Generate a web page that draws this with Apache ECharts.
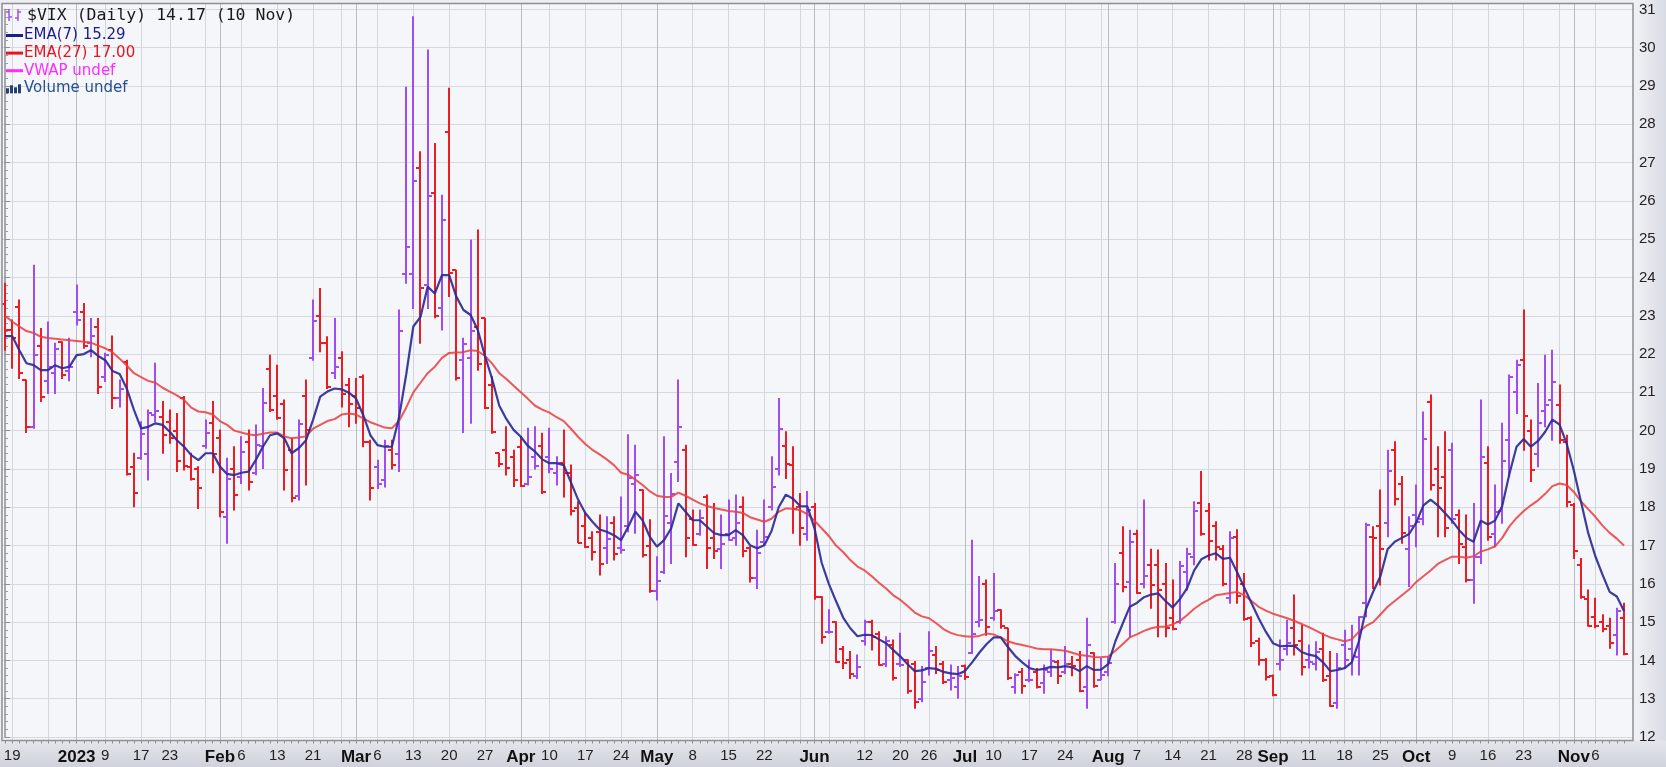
<!DOCTYPE html>
<html><head><meta charset="utf-8">
<script src="https://cdn.jsdelivr.net/npm/echarts@6/dist/echarts.min.js"></script>
<style>html,body{margin:0;padding:0;background:#fff;}#c{width:1666px;height:767px;}</style>
</head><body><div id="c"></div>
<script>
// ---------- data ----------
const firstDate = '2022-12-16';
const lastDate = '2023-11-10';
const holidays = ['2022-12-26','2023-01-02','2023-01-16','2023-02-20','2023-04-07','2023-05-29','2023-06-19','2023-07-04','2023-09-04'];

const opens = [23.31,22.63,23.22,21.32,20.1,22.21,21.3,21.5,22.32,21.55,
23.11,23.11,22.3,22.7,21.4,22.1,20.84,21.8,19.06,19.28,
19.4,20.4,20.36,20.23,20.0,20.84,19.06,19.0,19.6,20.2,
19.8,17.75,19.0,18.8,19.7,18.9,19.6,21.6,20.9,20.7,
19.5,18.3,20.9,21.9,23.0,22.3,21.5,21.9,21.2,20.9,
21.41,19.7,19.06,18.7,19.5,19.4,24.1,24.1,26.85,23.8,
26.2,23.2,27.8,24.19,21.84,21.9,22.7,22.93,21.2,19.41,
19.5,19.3,19.58,18.6,19.3,19.6,19.3,18.9,19.15,18.9,
17.97,17.5,17.2,17.36,16.93,17.58,16.93,17.5,18.6,18.45,
17.0,15.8,16.32,17.6,19.19,19.49,17.7,17.3,18.27,17.2,
16.9,17.3,17.2,18.0,16.93,16.14,17.1,18.0,19.0,19.6,
19.1,18.0,17.3,18.0,15.66,14.75,15.0,14.3,14.0,13.6,
14.5,15.0,14.7,13.9,14.4,13.9,14.0,13.9,13.0,13.8,
14.14,13.9,13.5,13.3,13.85,14.2,15.0,16.0,15.1,15.32,
14.84,13.3,13.7,13.5,13.7,13.4,13.7,13.95,13.7,13.9,
14.0,13.3,14.2,13.5,13.7,15.0,16.8,16.05,17.3,16.0,
16.5,16.5,16.0,15.1,15.0,16.3,16.7,18.1,17.9,17.5,
16.9,15.62,17.23,16.0,15.1,14.5,14.0,13.6,13.9,14.3,
14.84,14.5,14.0,13.9,14.3,13.6,12.9,14.4,14.3,14.1,
15.5,17.23,17.5,17.6,19.5,18.6,16.9,17.8,17.7,20.76,
19.0,18.8,19.5,17.8,16.97,16.1,16.7,19.15,17.3,17.9,
19.75,21.0,21.84,20.0,19.4,20.5,20.8,20.67,19.7,18.06,
16.5,15.6,15.14,15.0,14.9,14.66,15.1];

const highs = [23.85,22.89,23.41,21.32,24.32,22.67,22.84,22.28,22.32,22.41,
23.8,23.32,22.93,22.93,22.02,22.47,21.32,21.84,19.41,20.23,
20.54,21.76,20.76,20.54,20.45,20.89,19.41,19.06,20.28,20.76,
20.02,19.28,19.58,19.84,20.02,20.15,21.1,21.97,21.71,20.8,
19.8,20.28,21.32,23.41,23.71,22.45,22.93,22.06,21.36,21.36,
21.45,19.75,19.23,19.75,19.75,23.15,28.97,30.81,27.28,29.94,
27.5,26.15,28.94,24.19,22.41,24.98,25.24,22.93,21.41,19.41,
20.1,19.49,19.84,20.06,20.1,19.93,20.06,19.32,20.02,19.1,
18.14,17.84,17.36,17.8,17.75,17.75,18.27,19.89,19.62,18.45,
17.67,16.71,19.84,18.88,21.32,19.62,17.93,17.93,18.32,18.1,
17.8,18.19,18.32,18.27,16.97,17.4,18.19,19.32,20.84,19.97,
19.58,18.36,18.41,18.1,15.66,15.32,15.01,14.36,14.23,14.14,
15.05,15.05,14.75,14.62,14.53,14.71,14.01,13.97,13.84,14.75,
14.36,13.97,13.88,13.84,13.88,17.14,16.19,16.1,16.27,15.32,
14.84,13.65,13.79,14.01,13.79,13.88,14.27,14.0,14.36,14.1,
14.23,15.1,14.2,14.05,14.1,16.53,17.49,17.4,17.4,18.19,
16.9,16.88,16.53,16.1,16.58,16.93,18.14,18.93,18.1,17.62,
17.0,17.36,17.41,16.27,15.14,14.58,14.05,13.62,14.53,15.05,
15.71,14.92,14.4,14.49,14.71,14.23,14.18,14.79,14.92,15.14,
17.58,17.49,18.45,19.49,19.71,18.8,17.75,18.58,20.49,20.93,
19.58,19.97,19.67,17.93,17.8,18.1,20.8,19.58,18.58,20.19,
21.45,21.84,23.15,20.28,21.23,21.97,22.1,21.19,19.88,18.1,
16.66,15.84,15.62,15.19,15.1,15.36,15.49];

const lows = [22.1,21.63,21.36,19.95,20.06,20.76,20.97,20.97,21.36,21.3,
22.76,22.15,21.93,20.97,21.28,20.58,20.62,18.84,18.01,19.25,
18.71,20.23,19.41,19.67,18.93,18.97,18.71,17.97,19.54,18.9,
17.75,17.06,17.93,18.62,18.45,18.85,19.01,20.5,20.3,18.45,
18.14,18.19,18.58,21.84,22.06,21.1,21.36,20.62,20.1,20.19,
19.58,18.19,18.49,18.53,19.0,18.93,23.85,23.19,22.28,23.19,
22.95,22.63,23.5,21.32,19.95,20.19,21.58,20.58,19.93,19.06,
18.84,18.54,18.54,18.58,19.0,18.36,18.9,18.58,18.27,17.8,
17.07,16.95,16.62,16.23,16.53,16.62,16.8,17.36,17.32,16.7,
15.78,15.58,16.27,16.53,18.67,16.71,17.01,17.27,16.4,16.66,
16.4,17.14,17.01,16.71,16.05,15.88,17.01,17.93,18.84,18.75,
17.32,17.01,17.14,15.6,14.45,14.71,13.95,13.79,13.53,13.53,
14.4,14.27,13.88,13.84,13.49,13.84,13.14,12.75,12.92,13.62,
13.66,13.4,13.23,13.01,13.5,14.18,14.88,14.66,15.05,14.84,
13.5,13.14,13.14,13.44,13.28,13.14,13.58,13.4,13.65,13.6,
13.18,12.75,13.3,13.5,13.6,14.97,15.79,14.62,15.75,15.9,
15.36,14.62,14.62,14.8,14.97,15.84,16.5,17.27,16.62,16.62,
15.95,15.49,15.49,15.05,14.36,13.88,13.49,13.08,13.75,14.14,
14.14,13.62,13.8,13.75,13.45,12.8,12.75,13.79,13.62,13.62,
15.14,15.88,15.97,17.23,18.06,17.06,15.93,16.97,17.54,18.45,
17.23,17.23,17.58,16.53,16.05,15.49,16.53,17.14,16.97,17.58,
18.8,20.45,19.49,18.67,19.06,20.1,19.75,19.67,18.01,16.66,
15.62,14.9,14.85,14.75,14.32,14.14,14.15];

const closes = [22.62,22.42,21.5,20.1,21.97,20.87,21.65,22.14,21.44,21.67,
22.9,22.2,22.46,21.13,21.97,20.86,21.09,18.88,18.36,19.9,
20.45,20.52,19.89,19.81,19.2,19.08,18.73,18.51,19.94,19.4,
17.87,18.73,18.33,19.43,18.66,19.63,20.71,20.53,20.34,18.97,
18.23,20.17,20.02,22.87,22.29,21.14,21.67,20.95,20.7,20.58,
19.7,18.49,18.6,19.59,19.11,22.61,24.8,26.52,23.73,26.14,
22.99,25.51,24.12,21.38,22.26,22.61,21.74,20.6,19.97,19.12,
19.02,18.7,18.55,18.8,19.08,18.4,19.0,19.15,18.9,17.9,
17.07,16.97,16.84,16.53,17.17,16.77,16.89,18.76,18.84,16.75,
15.8,16.08,17.78,18.34,20.09,17.19,17.01,17.71,16.94,16.85,
17.03,17.14,17.6,16.87,16.14,16.81,17.21,18.53,20.03,19.14,
17.95,17.46,17.94,15.65,14.62,14.73,13.96,13.94,13.65,13.83,
15.01,14.61,13.88,14.5,13.54,13.88,13.2,12.91,13.44,14.25,
13.74,13.43,13.54,13.59,13.57,14.69,15.05,14.88,15.3,14.9,
13.54,13.61,13.34,13.48,13.3,13.76,13.99,13.6,13.91,13.86,
13.19,14.41,13.33,13.63,13.93,15.99,15.92,17.1,15.77,16.2,
15.96,15.85,14.84,14.82,16.46,16.78,17.89,17.3,17.13,16.97,
16.0,17.2,15.68,15.08,14.45,14.0,13.57,13.09,14.02,14.45,
14.4,13.84,13.95,14.23,13.48,12.82,13.79,14.0,14.11,15.14,
17.54,17.2,16.9,18.94,18.22,17.34,17.52,17.61,19.78,18.58,
18.49,17.45,17.7,17.03,16.09,16.69,19.32,17.21,17.88,19.22,
21.4,21.71,20.37,18.97,20.19,20.68,21.27,19.75,18.14,16.87,
15.66,14.91,14.89,14.81,14.45,15.29,14.17];

const ema7 = [22.47,22.47,22.1,21.76,21.71,21.58,21.58,21.71,21.63,21.67,
21.97,22.0,22.1,21.95,21.84,21.56,21.48,21.1,20.54,20.06,
20.1,20.19,20.15,19.97,19.75,19.58,19.36,19.23,19.41,19.41,
19.06,18.87,18.84,18.9,18.93,19.23,19.58,19.88,19.93,19.8,
19.41,19.54,19.74,20.28,20.89,21.02,21.1,21.08,20.99,20.84,
20.41,19.88,19.62,19.58,19.58,20.34,21.46,22.72,22.97,23.76,
23.58,24.06,24.06,23.5,23.15,23.02,22.63,21.95,21.35,20.65,
20.3,20.02,19.84,19.6,19.45,19.25,19.15,19.15,19.1,18.65,
18.2,17.85,17.62,17.42,17.36,17.27,17.14,17.49,17.88,17.66,
17.23,16.97,17.14,17.45,18.1,17.88,17.66,17.66,17.49,17.32,
17.27,17.27,17.4,17.27,17.01,16.93,17.01,17.38,18.0,18.33,
18.22,18.03,18.02,17.45,16.55,16.0,15.55,15.12,14.84,14.63,
14.67,14.66,14.55,14.45,14.27,14.1,13.9,13.72,13.74,13.8,
13.78,13.7,13.66,13.64,13.72,13.95,14.2,14.42,14.6,14.6,
14.35,14.12,13.95,13.8,13.75,13.78,13.83,13.82,13.85,13.82,
13.72,13.85,13.75,13.76,13.9,14.5,14.95,15.4,15.5,15.65,
15.72,15.75,15.55,15.38,15.6,15.88,16.35,16.64,16.74,16.8,
16.65,16.68,16.3,15.9,15.5,15.1,14.75,14.45,14.37,14.38,
14.38,14.22,14.15,14.11,13.95,13.72,13.75,13.8,13.95,14.5,
15.35,15.8,16.2,16.9,17.1,17.2,17.3,17.6,18.05,18.2,
18.05,17.85,17.65,17.4,17.2,17.1,17.65,17.55,17.65,18.03,
18.87,19.58,19.78,19.58,19.73,19.97,20.29,20.16,19.66,18.96,
18.14,17.33,16.72,16.24,15.79,15.67,15.29];

const ema27 = [23.0,22.85,22.72,22.6,22.55,22.45,22.42,22.4,22.38,22.36,
22.34,22.32,22.3,22.22,22.15,22.05,21.88,21.7,21.5,21.4,
21.3,21.25,21.12,21.02,20.92,20.8,20.6,20.5,20.48,20.42,
20.25,20.15,20.0,19.95,19.9,19.88,19.92,19.95,19.95,19.85,
19.8,19.82,19.85,20.05,20.15,20.25,20.3,20.42,20.45,20.42,
20.32,20.22,20.15,20.08,20.06,20.25,20.6,21.0,21.25,21.5,
21.67,21.9,22.03,22.04,22.05,22.1,22.08,21.95,21.75,21.5,
21.35,21.17,21.0,20.83,20.65,20.55,20.47,20.35,20.25,20.05,
19.84,19.65,19.5,19.38,19.25,19.1,18.9,18.85,18.72,18.58,
18.42,18.3,18.27,18.27,18.38,18.3,18.2,18.1,18.03,17.98,
17.94,17.9,17.88,17.85,17.74,17.68,17.62,17.7,17.88,17.97,
17.96,17.92,17.82,17.65,17.45,17.25,17.0,16.83,16.62,16.45,
16.35,16.2,16.03,15.88,15.7,15.58,15.42,15.25,15.15,15.1,
14.97,14.82,14.72,14.66,14.63,14.62,14.64,14.7,14.68,14.6,
14.5,14.44,14.4,14.36,14.31,14.29,14.29,14.27,14.25,14.2,
14.14,14.12,14.09,14.08,14.1,14.25,14.42,14.6,14.68,14.77,
14.84,14.88,14.88,14.94,15.03,15.18,15.35,15.48,15.58,15.7,
15.73,15.76,15.79,15.7,15.55,15.4,15.3,15.22,15.16,15.1,
15.03,14.95,14.87,14.78,14.68,14.6,14.55,14.5,14.55,14.75,
14.9,15.0,15.2,15.4,15.55,15.7,15.85,16.05,16.2,16.35,
16.52,16.62,16.71,16.71,16.68,16.72,16.84,16.9,16.98,17.2,
17.5,17.72,17.9,18.05,18.18,18.35,18.55,18.62,18.58,18.4,
18.15,17.95,17.75,17.52,17.33,17.18,17.0];

const tickDates = ['2022-12-19','2023-01-03','2023-01-09','2023-01-17','2023-01-23','2023-02-01','2023-02-06','2023-02-13','2023-02-21','2023-03-01','2023-03-06','2023-03-13','2023-03-20','2023-03-27','2023-04-03','2023-04-10','2023-04-17','2023-04-24','2023-05-01','2023-05-08','2023-05-15','2023-05-22','2023-06-01','2023-06-12','2023-06-20','2023-06-26','2023-07-03','2023-07-10','2023-07-17','2023-07-24','2023-08-01','2023-08-07','2023-08-14','2023-08-21','2023-08-28','2023-09-01','2023-09-11','2023-09-18','2023-09-25','2023-10-02','2023-10-09','2023-10-16','2023-10-23','2023-11-01','2023-11-06'];
const tickTexts = ['19','2023','9','17','23','Feb','6','13','21','Mar','6','13','20','27','Apr','10','17','24','May','8','15','22','Jun','12','20','26','Jul','10','17','24','Aug','7','14','21','28','Sep','11','18','25','Oct','9','16','23','Nov','6'];
const yTickValues = [12,13,14,15,16,17,18,19,20,21,22,23,24,25,26,27,28,29,30,31];

const titleText = '$VIX (Daily) 14.17 (10 Nov)';
const legendRows = [
  {text:'EMA(7) 15.29', color:'#1c1c8a'},
  {text:'EMA(27) 17.00', color:'#e8141c'},
  {text:'VWAP undef', color:'#ff2cff'},
  {text:'Volume undef', color:'#24508e'}
];

// ---------- derived categories ----------
function tradingDays(a, b, hol) {
  const hs = new Set(hol), out = [];
  let t = new Date(a + 'T00:00:00Z').getTime();
  const end = new Date(b + 'T00:00:00Z').getTime();
  while (t <= end) {
    const d = new Date(t), wd = d.getUTCDay(), s = d.toISOString().slice(0, 10);
    if (wd !== 0 && wd !== 6 && !hs.has(s)) out.push(s);
    t += 86400000;
  }
  return out;
}
const dates = tradingDays(firstDate, lastDate, holidays);
const labelMap = new Map(tickDates.map((d, k) => [d, tickTexts[k]]));
const weekIdx = new Set(), monthIdx = new Set();
dates.forEach((d, i) => {
  if (i === 0) return;
  const p = dates[i - 1];
  const wd = new Date(d + 'T00:00:00Z').getUTCDay(), pw = new Date(p + 'T00:00:00Z').getUTCDay();
  if (d.slice(5, 7) !== p.slice(5, 7)) monthIdx.add(i);
  else if (wd < pw) weekIdx.add(i);
});

// ---------- layout ----------
const PL = 2, PR = 1633, PT = 3.5, PB = 740.5;     // plot frame
const X0 = 5, X1 = 1624;                            // first / last bar centre
const step = (X1 - X0) / (dates.length - 1);
const Y31 = 9.4, Y12 = 737;
const UP = '#a04cf0', DOWN = '#ec1c24';

const ohlc = dates.map((d, i) => {
  const up = i === 0 ? closes[i] > opens[i] : closes[i] > closes[i - 1];
  return [i, opens[i], highs[i], lows[i], closes[i], up ? 1 : 0];
});

function renderOHLC(params, api) {
  const i = api.value(0);
  const h = api.coord([i, api.value(2)]);
  const l = api.coord([i, api.value(3)]);
  const o = api.coord([i, api.value(1)]);
  const c = api.coord([i, api.value(4)]);
  const col = api.value(5) ? UP : DOWN;
  const x = Math.round(h[0]);
  const st = {stroke: col, lineWidth: 2};
  return {type: 'group', children: [
    {type: 'line', shape: {x1: x, y1: h[1] - 0.5, x2: x, y2: l[1] + 0.5}, style: st},
    {type: 'line', shape: {x1: x - 4, y1: Math.round(o[1]), x2: x, y2: Math.round(o[1])}, style: st},
    {type: 'line', shape: {x1: x, y1: Math.round(c[1]), x2: x + 4, y2: Math.round(c[1])}, style: st}
  ]};
}

const FONT = '"Liberation Sans", Arial, sans-serif';
const graphics = [
  {type: 'rect', z: -100, silent: true, shape: {x: 0, y: 0, width: 1666, height: 767}, style: {fill: '#eceef2'}},
  {type: 'rect', z: -99, silent: true, shape: {x: PR, y: 0, width: 1666 - PR, height: 767},
    style: {fill: new echarts.graphic.LinearGradient(0, 0, 1, 0, [{offset: 0, color: '#f1f2f6'}, {offset: 1, color: '#d9dce4'}])}},
  {type: 'rect', z: -99, silent: true, shape: {x: 0, y: PB, width: 1666, height: 767 - PB},
    style: {fill: new echarts.graphic.LinearGradient(0, 0, 0, 1, [{offset: 0, color: '#e4e6ec'}, {offset: 1, color: '#cfd2da'}])}},
  {type: 'rect', z: -98, silent: true, shape: {x: PL, y: PT, width: PR - PL, height: PB - PT}, style: {fill: '#f5f6fa'}},
  {type: 'rect', z: 60, silent: true, shape: {x: PL, y: PT, width: PR - PL, height: PB - PT}, style: {fill: 'none', stroke: '#8d8f95', lineWidth: 1.5}},
  // title row icon
  {type: 'line', z: 70, shape: {x1: 9, y1: 9, x2: 9, y2: 21}, style: {stroke: UP, lineWidth: 1.5}},
  {type: 'line', z: 70, shape: {x1: 6, y1: 12, x2: 9, y2: 12}, style: {stroke: UP, lineWidth: 1.5}},
  {type: 'line', z: 70, shape: {x1: 9, y1: 17, x2: 12, y2: 17}, style: {stroke: UP, lineWidth: 1.5}},
  {type: 'line', z: 70, shape: {x1: 18, y1: 9, x2: 18, y2: 21}, style: {stroke: UP, lineWidth: 1.5}},
  {type: 'line', z: 70, shape: {x1: 15, y1: 18, x2: 18, y2: 18}, style: {stroke: UP, lineWidth: 1.5}},
  {type: 'line', z: 70, shape: {x1: 18, y1: 12, x2: 21, y2: 12}, style: {stroke: UP, lineWidth: 1.5}},
  {type: 'text', z: 70, x: 27, y: 16, style: {text: titleText, fill: '#1a1a1a', font: '16.5px "DejaVu Sans Mono", monospace', verticalAlign: 'middle'}}
];
legendRows.forEach((r, k) => {
  const y = 35.5 + k * 17.6;
  if (k < 3) {
    graphics.push({type: 'rect', z: 70, shape: {x: 6, y: y - 1.5, width: 17, height: 3}, style: {fill: r.color}});
  } else {
    [[6, 5], [10, 8], [14, 6], [18, 9]].forEach(([bx, bh]) => graphics.push({type: 'rect', z: 70, shape: {x: bx, y: y + 5 - bh, width: 3, height: bh}, style: {fill: '#24406e'}}));
  }
  graphics.push({type: 'text', z: 70, x: 24, y: y, style: {text: r.text, fill: r.color, font: '15px "DejaVu Sans", sans-serif', verticalAlign: 'middle'}});
});

const option = {
  animation: false,
  graphic: graphics,
  grid: [
    {left: X0, width: X1 - X0, top: PT, height: PB - PT, show: false},
    {left: PL, width: PR - PL, top: Y31, height: Y12 - Y31, show: false}
  ],
  xAxis: [
    {gridIndex: 0, type: 'category', data: dates, boundaryGap: false, position: 'bottom',
      axisLine: {show: false},
      axisTick: {show: true, interval: 0, length: 3, lineStyle: {color: '#8d8f95'}},
      axisLabel: {
        interval: (idx, val) => labelMap.has(val),
        formatter: (val) => {
          const t = labelMap.get(val) || '';
          return /[A-Za-z]|^\d{4}$/.test(t) ? '{b|' + t + '}' : '{n|' + t + '}';
        },
        margin: 8,
        rich: {
          b: {fontFamily: FONT, fontSize: 17, fontWeight: 'bold', color: '#111'},
          n: {fontFamily: FONT, fontSize: 15, color: '#222'}
        }
      },
      splitLine: {show: true, interval: (idx) => weekIdx.has(idx), lineStyle: {color: '#d3d6dd', width: 1}}
    },
    {gridIndex: 0, type: 'category', data: dates, boundaryGap: false, position: 'top',
      axisLine: {show: false}, axisTick: {show: false}, axisLabel: {show: false},
      splitLine: {show: true, interval: (idx) => monthIdx.has(idx), lineStyle: {color: '#b8bcc5', width: 1}}
    },
    {gridIndex: 1, type: 'value', show: false,
      min: -(X0 - PL) / step, max: (dates.length - 1) + (PR - X1) / step}
  ],
  yAxis: [
    {gridIndex: 0, type: 'value', show: false, min: 0, max: 1},
    {gridIndex: 1, type: 'value', position: 'right', min: yTickValues[0], max: yTickValues[yTickValues.length - 1], interval: 1,
      axisLine: {show: true, lineStyle: {color: '#8d8f95', width: 1.5}},
      axisTick: {show: true, length: 5, lineStyle: {color: '#8d8f95'}},
      minorTick: {show: true, splitNumber: 5, length: 3, lineStyle: {color: '#9a9ca2'}},
      axisLabel: {margin: 6, fontFamily: FONT, fontSize: 15, color: '#222'},
      splitLine: {show: true, lineStyle: {color: '#d6d9e0', width: 1}}
    }
  ],
  series: [
    {type: 'line', xAxisIndex: 0, yAxisIndex: 0, data: [], silent: true},
    {type: 'custom', name: '$VIX', xAxisIndex: 2, yAxisIndex: 1, data: ohlc, renderItem: renderOHLC,
      encode: {x: 0, y: [1, 2, 3, 4]}, z: 3, clip: true},
    {type: 'line', name: 'EMA(27)', xAxisIndex: 2, yAxisIndex: 1, data: ema27.map((v, i) => [i, v]),
      showSymbol: false, lineStyle: {color: '#ea3c3c', width: 2, opacity: 0.85}, z: 4},
    {type: 'line', name: 'EMA(7)', xAxisIndex: 2, yAxisIndex: 1, data: ema7.map((v, i) => [i, v]),
      showSymbol: false, lineStyle: {color: '#2b2b95', width: 2.2, opacity: 0.92}, z: 5}
  ]
};
const chart = echarts.init(document.getElementById('c'));
chart.setOption(option);
</script></body></html>
